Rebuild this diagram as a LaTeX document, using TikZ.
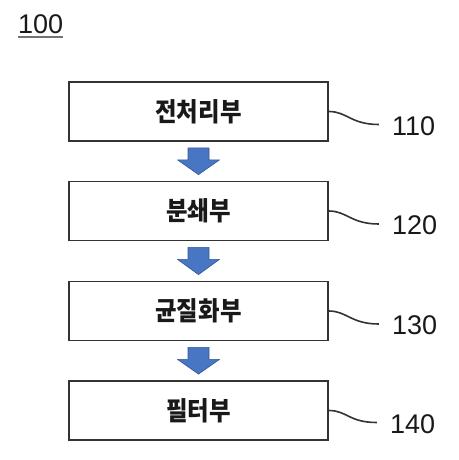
\documentclass[tikz,border=0pt]{standalone}
\usepackage{fontspec}
\setmainfont{Liberation Sans}
\newfontfamily\kor{Noto Sans CJK KR}
\usetikzlibrary{calc}
\definecolor{flowblue}{RGB}{72,118,194}
\definecolor{flowedge}{RGB}{50,86,150}
\tikzset{
  unit/.style={draw=black!80, line width=1.8pt, minimum width=259pt, minimum height=59pt, inner sep=0pt, text=black!90, font=\kor\bfseries\fontsize{26}{26}\selectfont\addfontfeature{FakeStretch=0.9}},
  leader/.style={draw=black!80, line width=1.6pt},
  refnum/.style={anchor=west, inner sep=0pt, text=black!90, font=\fontsize{27}{27}\selectfont},
  flow/.style={fill=flowblue, draw=flowedge, line width=0.6pt, line join=round}
}
\begin{document}
\begin{tikzpicture}[x=1pt, y=-1pt]
\useasboundingbox (0,0) rectangle (458,460);
%draw figure number
\node[refnum] (fig) at (18,24) {100};
\draw[line width=1.8pt, black!55] ($(fig.south west)+(0,3.5)$) -- ($(fig.south east)+(0,3.5)$);
%draw boxes
\node[unit] (pre) at (198.5,111.5) {전처리부};
\node[unit] (crush) at (198.5,211) {분쇄부};
\node[unit] (homo) at (198.5,311) {균질화부};
\node[unit] (filt) at (198.5,410.5) {필터부};
%draw block arrows
\draw[flow] ($(pre.south)+(-10.5,6)$) -- ($(pre.south)+(10.5,6)$) -- ($(pre.south)+(10.5,18)$) -- ($(pre.south)+(21,18)$) -- ($(crush.north)+(0,-6)$) -- ($(pre.south)+(-21,18)$) -- ($(pre.south)+(-10.5,18)$) -- cycle;
\draw[flow] ($(crush.south)+(-10.5,6)$) -- ($(crush.south)+(10.5,6)$) -- ($(crush.south)+(10.5,18)$) -- ($(crush.south)+(21,18)$) -- ($(homo.north)+(0,-6)$) -- ($(crush.south)+(-21,18)$) -- ($(crush.south)+(-10.5,18)$) -- cycle;
\draw[flow] ($(homo.south)+(-10.5,6)$) -- ($(homo.south)+(10.5,6)$) -- ($(homo.south)+(10.5,18)$) -- ($(homo.south)+(21,18)$) -- ($(filt.north)+(0,-6)$) -- ($(homo.south)+(-21,18)$) -- ($(homo.south)+(-10.5,18)$) -- cycle;
%draw reference numbers
\node[refnum] (n110) at (392,126) {110};
\node[refnum] (n120) at (392,225.5) {120};
\node[refnum] (n130) at (392,325.5) {130};
\node[refnum] (n140) at (390,424) {140};
%draw leader lines
\coordinate (e110) at ($(pre.east)+(50,13)$);
\coordinate (e120) at ($(crush.east)+(50,13)$);
\coordinate (e130) at ($(homo.east)+(50,13)$);
\coordinate (e140) at ($(filt.east)+(48,12)$);
\draw[leader] (pre.east) .. controls +(18,0) and +(-28,0) .. (e110);
\draw[leader] (crush.east) .. controls +(18,0) and +(-28,0) .. (e120);
\draw[leader] (homo.east) .. controls +(18,0) and +(-28,0) .. (e130);
\draw[leader] (filt.east) .. controls +(18,0) and +(-28,0) .. (e140);
\end{tikzpicture}
\end{document}
